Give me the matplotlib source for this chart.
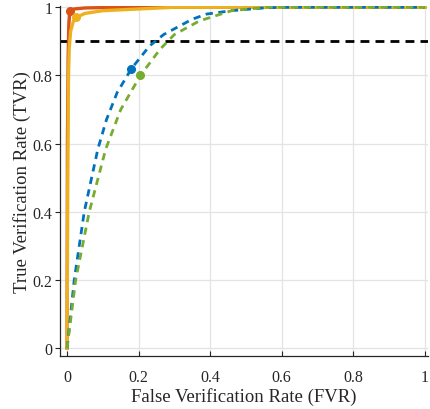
import matplotlib
matplotlib.use('Agg')
from matplotlib import pyplot as plt

# ROC-style curves: false vs true verification rate
red_fvr=[0,0.001,0.003,0.005,0.008,0.02,0.05,0.1,0.2,1]
red_tvr=[0,0.6,0.85,0.95,0.99,0.995,0.998,0.999,1.0,1.0]
yel_fvr=[0,0.002,0.004,0.006,0.01,0.018,0.025,0.05,0.1,0.2,0.3,1]
yel_tvr=[0,0.5,0.8,0.88,0.93,0.96,0.97,0.982,0.99,0.995,1.0,1.0]
blue_fvr=[0,0.005,0.02,0.048,0.086,0.11,0.14,0.18,0.23,0.27,0.35,0.39,0.46,0.55,0.6,1]
blue_tvr=[0,0.05,0.2,0.4,0.584,0.67,0.75,0.82,0.886,0.92,0.965,0.98,0.99,0.998,1.0,1.0]
green_fvr=[0,0.006,0.024,0.062,0.108,0.15,0.205,0.26,0.30,0.37,0.46,0.56,1]
green_tvr=[0,0.05,0.2,0.4,0.584,0.7,0.80,0.877,0.92,0.96,0.99,1.0,1.0]
# operating points
red_pt=(0.008,0.99)
yel_pt=(0.025,0.97)
blue_pt=(0.18,0.82)
green_pt=(0.205,0.80)
target_tvr=0.9
ticks=[0,0.2,0.4,0.6,0.8,1]
tick_labels=['0','0.2','0.4','0.6','0.8','1']

plt.rcParams['font.family']=['Liberation Serif','DejaVu Serif']
fig=plt.figure(figsize=(4.31,4.10),dpi=100)
ax=fig.add_axes([0.139,0.129,0.855,0.855])

RED='#D95319';YEL='#EDB120';BLUE='#0072BD';GREEN='#77AC30'
ax.plot(red_fvr,red_tvr,color=RED,lw=2.4,zorder=3)
ax.plot(yel_fvr,yel_tvr,color=YEL,lw=2.4,zorder=3)
ax.plot(blue_fvr,blue_tvr,color=BLUE,lw=2.0,ls=(0,(2.6,2.0)),zorder=3)
ax.plot(green_fvr,green_tvr,color=GREEN,lw=2.0,ls=(0,(2.6,2.0)),zorder=3)
ax.axhline(target_tvr,color='black',lw=2.0,ls=(0,(3.2,2.2)),zorder=2)
for pt,c in [(red_pt,RED),(yel_pt,YEL),(blue_pt,BLUE),(green_pt,GREEN)]:
	ax.plot(pt[0],pt[1],'o',color=c,ms=5.5,zorder=4)

ax.set_xlim(-0.02,1.01)
ax.set_ylim(-0.023,1.005)
ax.set_xticks(ticks)
ax.set_xticklabels(tick_labels)
ax.set_yticks(ticks)
ax.set_yticklabels(tick_labels)
ax.tick_params(length=3.5,width=0.8,labelsize=11.5,colors='#262626')
ax.tick_params(axis='x',direction='in',pad=9)
ax.tick_params(axis='y',direction='out',pad=2)
ax.grid(True,color='#e3e3e3',lw=0.9)
ax.set_axisbelow(True)
for s in ['top','right']:ax.spines[s].set_visible(False)
for s in ['left','bottom']:
	ax.spines[s].set_color('#262626')
	ax.spines[s].set_linewidth(0.9)
ax.set_xlabel('False Verification Rate (FVR)',fontsize=13.5,color='#262626',labelpad=2)
ax.set_ylabel('True Verification Rate (TVR)',fontsize=13.5,color='#262626',labelpad=1)
plt.savefig('out.png',dpi=100)
